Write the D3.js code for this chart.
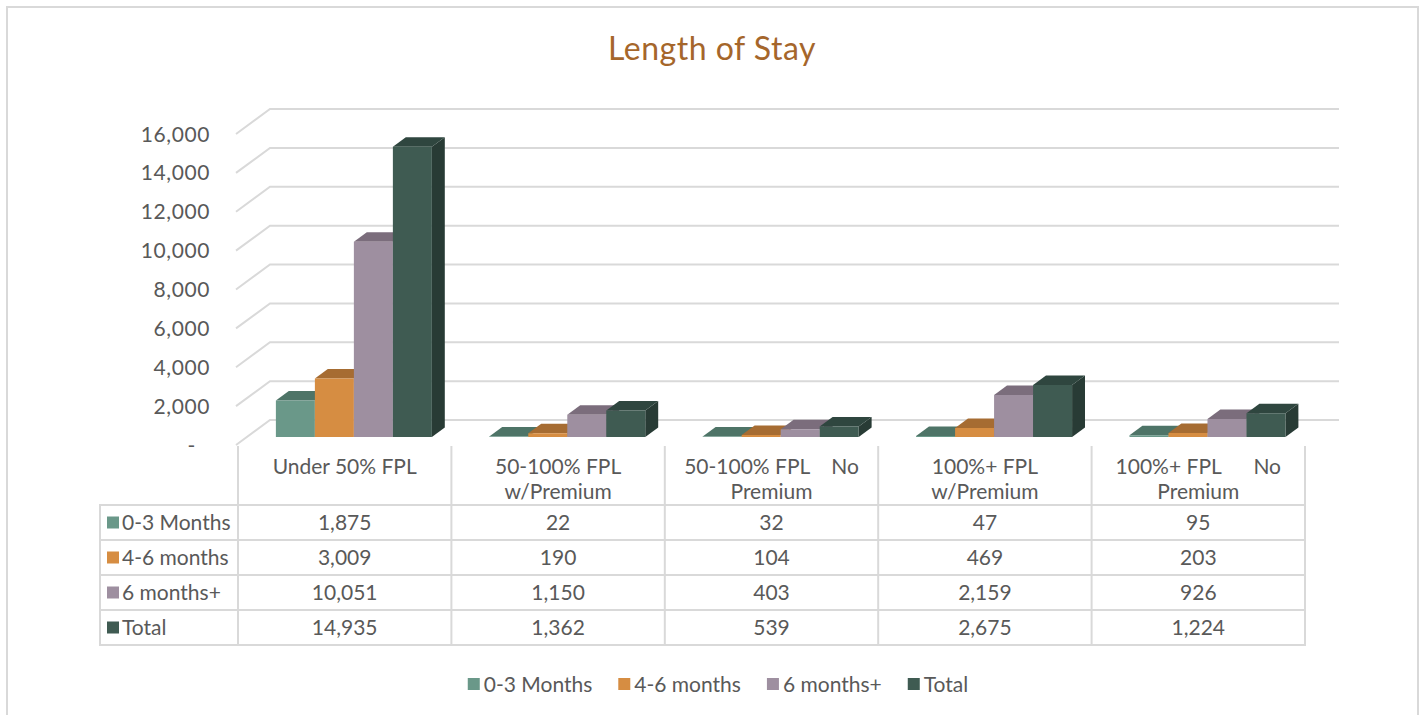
<!DOCTYPE html>
<html>
<head>
<meta charset="utf-8">
<script src="https://cdn.jsdelivr.net/npm/d3@7"></script>
<style>
  body { margin: 0; background: #fff; }
  svg text { font-family: Lato, "Open Sans", sans-serif; fill: #595959; }
</style>
</head>
<body>
<svg id="chart" width="1421" height="715"></svg>
<script>
const categories = ['Under 50% FPL', '50-100% FPL w/Premium', '50-100% FPL No Premium', '100%+ FPL w/Premium', '100%+ FPL No Premium']
const headerLines = [
  ['Under 50% FPL'],
  ['50-100% FPL', 'w/Premium'],
  ['50-100% FPL    No', 'Premium'],
  ['100%+ FPL', 'w/Premium'],
  ['100%+ FPL      No', 'Premium']
]
const seriesNames = ['0-3 Months', '4-6 months', '6 months+', 'Total']
const months0to3 = [1875, 22, 32, 47, 95]
const months4to6 = [3009, 190, 104, 469, 203]
const months6plus = [10051, 1150, 403, 2159, 926]
const totals = [14935, 1362, 539, 2675, 1224]
const yTicks = [0, 2000, 4000, 6000, 8000, 10000, 12000, 14000, 16000]

const seriesValues = [months0to3, months4to6, months6plus, totals]
const frontColors = ['#6a9889', '#d68d42', '#9e8fa0', '#3f5b52']
const topColors = ['#4e7467', '#a66c32', '#7b6d7c', '#2f463f']
const sideColors = ['#405f54', '#8c5a28', '#665a67', '#283b35']

const svg = d3.select('#chart')
const depthX = 34, depthY = 25
const z0 = 0.32, z1 = 0.7
const fmt = d3.format(',')
const fontSize = '21px'

const x = d3.scaleBand().domain(categories).range([238, 1305])
const xInner = d3.scaleBand().domain(seriesNames).range([27, 183])
const y = d3.scaleLinear().domain([0, 16000]).range([445, 134])

function pt(px, v, z) {
  return [px + z * depthX, y(v) - z * depthY]
}

// outer border
svg.append('rect')
  .attr('x', 7).attr('y', 7)
  .attr('width', 1411).attr('height', 720)
  .attr('fill', 'none').attr('stroke', '#d9d9d9').attr('stroke-width', 2)

// title
svg.append('text')
  .attr('x', 712).attr('y', 60)
  .attr('text-anchor', 'middle')
  .style('font-size', '32px')
  .style('letter-spacing', '0.5px')
  .style('fill', '#a5662b')
  .text('Length of Stay')

// gridlines: side wall + back wall
const x0 = x.range()[0] - 2, x1 = x.range()[1]
svg.append('g').selectAll('path')
  .data(yTicks)
  .join('path')
  .attr('d', d => {
    const a = pt(x0, d, 0), b = pt(x0, d, 1), c = pt(x1, d, 1)
    return 'M' + a + 'L' + b + 'L' + c
  })
  .attr('fill', 'none')
  .attr('stroke', '#d9d9d9')
  .attr('stroke-width', 2)

// y labels
svg.append('g').selectAll('text')
  .data(yTicks)
  .join('text')
  .attr('x', d => d === 0 ? 196 : 210)
  .attr('y', d => y(d))
  .attr('dy', '0.36em')
  .attr('text-anchor', 'end')
  .style('font-size', fontSize)
  .style('letter-spacing', '0.6px')
  .text(d => d === 0 ? '-' : fmt(d))

// bars
const bars = []
categories.forEach((c, ci) => {
  seriesNames.forEach((s, si) => {
    bars.push({ c, s, si, v: seriesValues[si][ci] })
  })
})

const barG = svg.append('g').selectAll('g')
  .data(bars)
  .join('g')

barG.append('path')
  .attr('d', d => {
    const l = x(d.c) + xInner(d.s), r = l + xInner.bandwidth()
    return 'M' + [pt(r, 0, z0), pt(r, d.v, z0), pt(r, d.v, z1), pt(r, 0, z1)].join('L') + 'Z'
  })
  .attr('fill', d => sideColors[d.si])

barG.append('path')
  .attr('d', d => {
    const l = x(d.c) + xInner(d.s), r = l + xInner.bandwidth()
    return 'M' + [pt(l, d.v, z0), pt(r, d.v, z0), pt(r, d.v, z1), pt(l, d.v, z1)].join('L') + 'Z'
  })
  .attr('fill', d => topColors[d.si])

barG.append('path')
  .attr('d', d => {
    const l = x(d.c) + xInner(d.s), r = l + xInner.bandwidth()
    return 'M' + [pt(l, 0, z0), pt(l, d.v, z0), pt(r, d.v, z0), pt(r, 0, z0)].join('L') + 'Z'
  })
  .attr('fill', d => frontColors[d.si])

// data table
const rowTop = 505, rowH = 35
const tableLeft = 100
const grid = svg.append('g').attr('stroke', '#d9d9d9').attr('stroke-width', 2)

d3.range(seriesNames.length + 1).forEach(i => {
  grid.append('line')
    .attr('x1', tableLeft - 1).attr('x2', x1 + 1)
    .attr('y1', rowTop + i * rowH).attr('y2', rowTop + i * rowH)
})
grid.append('line')
  .attr('x1', tableLeft).attr('x2', tableLeft)
  .attr('y1', rowTop).attr('y2', rowTop + seriesNames.length * rowH)
categories.concat(['end']).forEach((c, i) => {
  const px = i < categories.length ? x(c) : x1
  grid.append('line')
    .attr('x1', px).attr('x2', px)
    .attr('y1', 446).attr('y2', rowTop + seriesNames.length * rowH)
})

// header labels
const header = svg.append('g').selectAll('text')
  .data(categories)
  .join('text')
  .attr('x', d => x(d) + x.bandwidth() / 2)
  .attr('y', 466)
  .attr('text-anchor', 'middle')
  .style('font-size', fontSize)
  .style('white-space', 'pre')
  .attr('xml:space', 'preserve')

header.selectAll('tspan')
  .data((d, i) => headerLines[i].map((t, j) => ({ t, j })))
  .join('tspan')
  .attr('x', function () { return d3.select(this.parentNode).attr('x') })
  .attr('y', d => 466 + d.j * 25)
  .attr('dy', '0.36em')
  .text(d => d.t)

// row labels
seriesNames.forEach((s, si) => {
  const cy = rowTop + si * rowH + rowH / 2
  svg.append('rect')
    .attr('x', 107).attr('y', cy - 6)
    .attr('width', 12).attr('height', 12)
    .attr('fill', frontColors[si])
  svg.append('text')
    .attr('x', 122).attr('y', cy)
    .attr('dy', '0.36em')
    .style('font-size', fontSize)
    .text(s)
  svg.append('g').selectAll('text')
    .data(seriesValues[si])
    .join('text')
    .attr('x', (d, ci) => x(categories[ci]) + x.bandwidth() / 2)
    .attr('y', cy)
    .attr('dy', '0.36em')
    .attr('text-anchor', 'middle')
    .style('font-size', fontSize)
    .text(d => fmt(d))
})

// legend
const legend = svg.append('g').attr('transform', 'translate(0,684)')
const items = legend.selectAll('g')
  .data(seriesNames)
  .join('g')
items.append('rect')
  .attr('y', -6).attr('width', 12).attr('height', 12)
  .attr('fill', (d, i) => frontColors[i])
items.append('text')
  .attr('x', 16)
  .attr('dy', '0.36em')
  .style('font-size', fontSize)
  .text(d => d)

let widths = []
items.each(function () { widths.push(this.getBBox().width) })
const gap = 26
const totalW = d3.sum(widths) + gap * (widths.length - 1)
let cx = 718 - totalW / 2
items.attr('transform', (d, i) => {
  const t = 'translate(' + cx + ',0)'
  cx += widths[i] + gap
  return t
})
</script>
</body>
</html>
